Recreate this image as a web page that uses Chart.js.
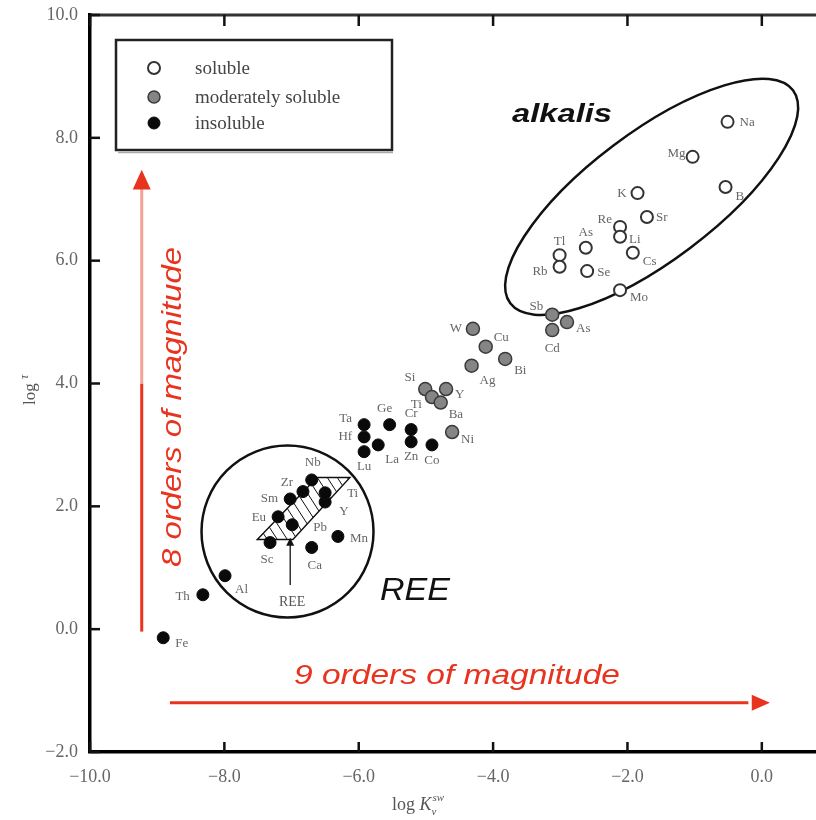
<!DOCTYPE html>
<html>
<head>
<meta charset="utf-8">
<script src="https://cdn.jsdelivr.net/npm/chart.js@4.4.0/dist/chart.umd.min.js"></script>
<style>
html, body { margin: 0; padding: 0; background: #fff; overflow: hidden; }
#marco { width: 816px; height: 820px; overflow: hidden; }
</style>
</head>
<body>
<div id="marco"><canvas id="graficoSolubilidad" width="840" height="820"></canvas></div>
<script>
// soluble elements (open circles)
const solNombres = ['Na', 'Mg', 'B', 'K', 'Sr', 'Re', 'Li', 'Cs', 'As', 'Tl', 'Rb', 'Se', 'Mo'];
const solX = [-0.51, -1.03, -0.54, -1.85, -1.71, -2.11, -2.11, -1.92, -2.62, -3.01, -3.01, -2.60, -2.11];
const solY = [8.26, 7.69, 7.20, 7.10, 6.71, 6.55, 6.39, 6.13, 6.21, 6.09, 5.90, 5.83, 5.52];

// moderately soluble (grey)
const modNombres = ['Sb', 'Cd', 'As', 'W', 'Cu', 'Bi', 'Ag', 'Si', 'Y', 'Ti', 'Ba', 'Ni'];
const modX = [-3.12, -3.12, -2.90, -4.30, -4.11, -3.82, -4.32, -5.01, -4.70, -4.91, -4.78, -4.61];
const modY = [5.12, 4.87, 5.00, 4.89, 4.60, 4.40, 4.29, 3.91, 3.91, 3.78, 3.69, 3.21];

// insoluble (black)
const insNombres = ['Ta', 'Hf', 'Lu', 'La', 'Ge', 'Cr', 'Zn', 'Co', 'Nb', 'Zr', 'Sm', 'Ti', 'Y', 'Eu', 'Pb', 'Sc', 'Mn', 'Ca', 'Al', 'Th', 'Fe'];
const insX = [-5.92, -5.92, -5.92, -5.71, -5.54, -5.22, -5.22, -4.91, -6.70, -6.83, -7.02, -6.50, -6.50, -7.20, -6.99, -7.32, -6.31, -6.70, -7.99, -8.32, -8.91];
const insY = [3.33, 3.13, 2.89, 3.00, 3.33, 3.25, 3.05, 3.00, 2.43, 2.24, 2.12, 2.22, 2.07, 1.83, 1.70, 1.41, 1.51, 1.33, 0.87, 0.56, -0.14];

const ticksX = [-10, -8, -6, -4, -2, 0];
const ticksY = [-2, 0, 2, 4, 6, 8, 10];
const leyenda = ['soluble', 'moderately soluble', 'insoluble'];

// where each element name sits relative to its marker: [dx, dy, align]
const posSol = [[12,1,'left'],[-7,-3,'right'],[10,10,'left'],[-11,0,'right'],[9,1,'left'],[-8,-7,'right'],[9,3,'left'],[10,9,'left'],[0,-15,'center'],[0,-14,'center'],[-12,5,'right'],[10,1,'left'],[10,7,'left']];
const posMod = [[-9,-8,'right'],[0,19,'center'],[9,6,'left'],[-11,0,'right'],[8,-9,'left'],[9,12,'left'],[8,15,'left'],[-10,-11,'right'],[9,6,'left'],[-10,8,'right'],[8,12,'left'],[9,8,'left']];
const posIns = [[-12,-6,'right'],[-12,0,'right'],[0,15,'center'],[7,15,'left'],[-5,-16,'center'],[0,-16,'center'],[0,15,'center'],[0,16,'center'],[1,-17,'center'],[-10,-9,'right'],[-12,0,'right'],[22,1,'left'],[14,10,'left'],[-12,1,'right'],[21,3,'left'],[-3,17,'center'],[12,2,'left'],[3,18,'center'],[10,14,'left'],[-13,2,'right'],[12,6,'left']];

const puntos = (xs, ys) => xs.map((x, i) => ({ x: x, y: ys[i] }));
const ROJO = '#e8341e';
const serif = '"Liberation Serif", "Times New Roman", serif';
const sans = '"Liberation Sans", Arial, sans-serif';

function textoAncho(ctx, txt, x, y, ancho, rot) {
  ctx.save();
  ctx.translate(x, y);
  ctx.rotate(rot || 0);
  const w = ctx.measureText(txt).width;
  ctx.scale(ancho / w, 1);
  ctx.textAlign = 'center';
  ctx.textBaseline = 'alphabetic';
  ctx.fillText(txt, 0, 0);
  ctx.restore();
}

const decoraciones = {
  id: 'decoraciones',
  beforeDatasetsDraw(chart) {
    const { ctx, scales: { x, y } } = chart;
    const px = v => x.getPixelForValue(v);
    const py = v => y.getPixelForValue(v);
    ctx.save();

    // alkalis ellipse
    ctx.strokeStyle = '#111';
    ctx.lineWidth = 2.5;
    ctx.beginPath();
    ctx.ellipse(px(-1.64), py(7.04), 177, 64, -37 * Math.PI / 180, 0, Math.PI * 2);
    ctx.stroke();

    // REE circle
    ctx.beginPath();
    ctx.arc(px(-7.06), py(1.59), 86, 0, Math.PI * 2);
    ctx.stroke();

    // hatched REE band
    const banda = [[-7.51, 1.46], [-6.62, 2.47], [-6.13, 2.47], [-6.98, 1.46]].map(p => [px(p[0]), py(p[1])]);
    ctx.lineWidth = 1.4;
    ctx.beginPath();
    banda.forEach((p, i) => i ? ctx.lineTo(p[0], p[1]) : ctx.moveTo(p[0], p[1]));
    ctx.closePath();
    ctx.stroke();
    ctx.save();
    ctx.clip();
    ctx.lineWidth = 1;
    for (let k = -80; k < 120; k += 10) {
      ctx.beginPath();
      ctx.moveTo(banda[0][0] + k, banda[1][1]);
      ctx.lineTo(banda[0][0] + k + 40, banda[0][1]);
      ctx.stroke();
    }
    ctx.restore();

    // REE pointer
    const ax = px(-7.02);
    ctx.lineWidth = 1.3;
    ctx.beginPath();
    ctx.moveTo(ax, py(0.72));
    ctx.lineTo(ax, py(1.40));
    ctx.stroke();
    ctx.fillStyle = '#111';
    ctx.beginPath();
    ctx.moveTo(ax, py(1.49));
    ctx.lineTo(ax - 4, py(1.36));
    ctx.lineTo(ax + 4, py(1.36));
    ctx.closePath();
    ctx.fill();
    ctx.fillStyle = '#555';
    ctx.font = '14px ' + serif;
    ctx.textAlign = 'center';
    ctx.fillText('REE', ax + 2, py(0.38));

    // red arrows
    const vx = px(-9.23);
    ctx.lineWidth = 3;
    ctx.strokeStyle = ROJO;
    ctx.beginPath();
    ctx.moveTo(vx, py(-0.04));
    ctx.lineTo(vx, py(4.0));
    ctx.stroke();
    ctx.strokeStyle = '#f3a297';
    ctx.beginPath();
    ctx.moveTo(vx, py(4.0));
    ctx.lineTo(vx, py(7.2));
    ctx.stroke();
    ctx.fillStyle = ROJO;
    ctx.beginPath();
    ctx.moveTo(vx, py(7.48));
    ctx.lineTo(vx - 9, py(7.16));
    ctx.lineTo(vx + 9, py(7.16));
    ctx.closePath();
    ctx.fill();

    const hy = py(-1.2);
    ctx.strokeStyle = ROJO;
    ctx.beginPath();
    ctx.moveTo(px(-8.81), hy);
    ctx.lineTo(px(-0.2), hy);
    ctx.stroke();
    ctx.beginPath();
    ctx.moveTo(px(0.12), hy);
    ctx.lineTo(px(-0.15), hy - 8);
    ctx.lineTo(px(-0.15), hy + 8);
    ctx.closePath();
    ctx.fill();

    ctx.font = 'italic 27px ' + sans;
    textoAncho(ctx, '8 orders of magnitude', 181, 407, 320, -Math.PI / 2);
    textoAncho(ctx, '9 orders of magnitude', 457, 684, 326, 0);

    ctx.fillStyle = '#111';
    ctx.font = 'italic bold 26px ' + sans;
    textoAncho(ctx, 'alkalis', 562, 122, 100, 0);
    ctx.font = 'italic 31px ' + sans;
    textoAncho(ctx, 'REE', 415, 600, 70, 0);
    ctx.restore();
  },
  afterDatasetsDraw(chart) {
    const { ctx, chartArea: area, scales: { x, y } } = chart;
    ctx.save();

    // element names
    ctx.font = '13px ' + serif;
    ctx.fillStyle = '#666';
    ctx.textBaseline = 'middle';
    const grupos = [[solNombres, posSol], [modNombres, posMod], [insNombres, posIns]];
    grupos.forEach(([nombres, pos], d) => {
      chart.getDatasetMeta(d).data.forEach((pt, i) => {
        ctx.textAlign = pos[i][2];
        ctx.fillText(nombres[i], pt.x + pos[i][0], pt.y + pos[i][1]);
      });
    });

    // frame and inward ticks
    ctx.strokeStyle = '#333';
    ctx.lineWidth = 3;
    ctx.beginPath();
    ctx.moveTo(area.left, area.top);
    ctx.lineTo(area.right, area.top);
    ctx.lineTo(area.right, area.bottom);
    ctx.stroke();
    ctx.strokeStyle = '#111';
    ctx.lineWidth = 2.5;
    ticksX.forEach(v => {
      const p = x.getPixelForValue(v);
      ctx.beginPath();
      ctx.moveTo(p, area.bottom);
      ctx.lineTo(p, area.bottom - 10);
      ctx.moveTo(p, area.top);
      ctx.lineTo(p, area.top + 11);
      ctx.stroke();
    });
    ticksY.forEach(v => {
      const p = y.getPixelForValue(v);
      ctx.beginPath();
      ctx.moveTo(area.left, p);
      ctx.lineTo(area.left + 10, p);
      ctx.stroke();
    });

    // legend box
    ctx.strokeStyle = '#222';
    ctx.lineWidth = 2.5;
    ctx.strokeRect(116, 40, 276, 110);
    ctx.strokeStyle = '#aaa';
    ctx.lineWidth = 1.5;
    ctx.beginPath();
    ctx.moveTo(118, 152.5);
    ctx.lineTo(393, 152.5);
    ctx.stroke();
    const filas = [68, 97, 123];
    chart.data.datasets.forEach((ds, i) => {
      ctx.beginPath();
      ctx.arc(154, filas[i], 6, 0, Math.PI * 2);
      ctx.fillStyle = ds.backgroundColor;
      ctx.fill();
      ctx.lineWidth = ds.borderWidth;
      ctx.strokeStyle = ds.borderColor;
      ctx.stroke();
      ctx.fillStyle = '#444';
      ctx.font = '19px ' + serif;
      ctx.textAlign = 'left';
      ctx.fillText(leyenda[i], 195, filas[i] + 1);
    });

    // axis titles
    ctx.fillStyle = '#555';
    ctx.textBaseline = 'alphabetic';
    ctx.textAlign = 'left';
    ctx.font = '18px ' + serif;
    const bx = 392;
    ctx.fillText('log ', bx, 810);
    const wLog = ctx.measureText('log ').width;
    ctx.font = 'italic 18px ' + serif;
    ctx.fillText('K', bx + wLog, 810);
    const wK = ctx.measureText('K').width;
    ctx.font = 'italic 11px ' + serif;
    ctx.fillText('sw', bx + wLog + wK + 1, 801);
    ctx.fillText('v', bx + wLog + wK, 815);

    ctx.save();
    ctx.translate(35, 405);
    ctx.rotate(-Math.PI / 2);
    ctx.font = '17px ' + serif;
    ctx.fillText('log ', 0, 0);
    const wl = ctx.measureText('log ').width;
    ctx.font = 'italic 12px ' + serif;
    ctx.fillText('τ', wl, -7);
    ctx.restore();

    ctx.restore();
  }
};

new Chart(document.getElementById('graficoSolubilidad'), {
  type: 'scatter',
  data: {
    datasets: [
      {
        label: leyenda[0],
        data: puntos(solX, solY),
        backgroundColor: '#ffffff',
        borderColor: '#333333',
        borderWidth: 2,
        pointRadius: 6
      },
      {
        label: leyenda[1],
        data: puntos(modX, modY),
        backgroundColor: '#858585',
        borderColor: '#3a3a3a',
        borderWidth: 1.5,
        pointRadius: 6.5
      },
      {
        label: leyenda[2],
        data: puntos(insX, insY),
        backgroundColor: '#0a0a0a',
        borderColor: '#0a0a0a',
        borderWidth: 1,
        pointRadius: 6
      }
    ]
  },
  options: {
    responsive: false,
    animation: false,
    layout: { padding: { top: 15, right: 11, left: 0, bottom: 0 } },
    plugins: {
      legend: { display: false },
      tooltip: { enabled: false }
    },
    scales: {
      x: {
        type: 'linear',
        min: -10,
        max: 1,
        afterFit: s => { s.height = 68; s.paddingLeft = 0; s.paddingRight = 0; },
        grid: { display: false, drawTicks: false },
        border: { display: true, color: '#000', width: 3.5 },
        ticks: {
          stepSize: 2,
          includeBounds: false,
          padding: 14,
          color: '#666',
          font: { family: serif, size: 18 },
          callback: v => v.toFixed(1).replace('-', '\u2212')
        }
      },
      y: {
        type: 'linear',
        min: -2,
        max: 10,
        afterFit: s => { s.width = 90; s.paddingTop = 0; s.paddingBottom = 0; },
        grid: { display: false, drawTicks: false },
        border: { display: true, color: '#000', width: 3.5 },
        ticks: {
          stepSize: 2,
          padding: 12,
          color: '#666',
          font: { family: serif, size: 18 },
          callback: v => v.toFixed(1).replace('-', '\u2212')
        }
      }
    }
  },
  plugins: [decoraciones]
});
</script>
</body>
</html>
